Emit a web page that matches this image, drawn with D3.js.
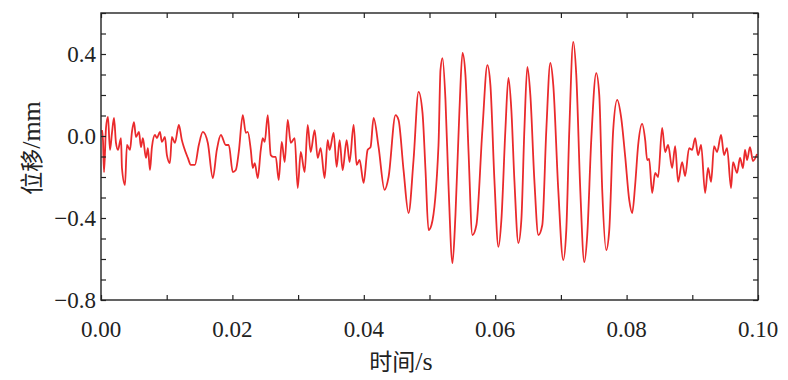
<!DOCTYPE html>
<html>
<head>
<meta charset="utf-8">
<script src="https://cdn.jsdelivr.net/npm/d3@7"></script>
<style>
  body { margin: 0; background: #fff; }
  svg text { font-family: "Liberation Serif", "Times New Roman", serif; fill: #222; }
  .cjk { font-family: "Noto Sans CJK SC", sans-serif; }
</style>
</head>
<body>
<svg id="chart" width="788" height="380"></svg>
<script>
// time (s)
const timeS = [
  0.00015, 0.0003, 0.00046, 0.00076, 0.00106, 0.00137, 0.00167, 0.00198, 0.00228, 0.00258,
  0.00304, 0.00319, 0.00365, 0.00395, 0.00441, 0.00471, 0.00502, 0.00532, 0.00578, 0.00608,
  0.00638, 0.00684, 0.00714, 0.00745, 0.00775, 0.00821, 0.00851, 0.00897, 0.00927, 0.00973,
  0.01003, 0.01049, 0.01079, 0.01125, 0.01185, 0.01231, 0.01261, 0.01322, 0.01368, 0.01429,
  0.01489, 0.0155, 0.01626, 0.01702, 0.01763, 0.01824, 0.019, 0.01945, 0.02006, 0.02052,
  0.02097, 0.02158, 0.02204, 0.02234, 0.0228, 0.0231, 0.0234, 0.02386, 0.02432, 0.02462,
  0.02492, 0.02538, 0.02584, 0.02629, 0.0266, 0.02705, 0.02751, 0.02796, 0.02842, 0.02888,
  0.02948, 0.02994, 0.0304, 0.031, 0.03146, 0.03191, 0.03252, 0.03298, 0.03343, 0.03404,
  0.0345, 0.0348, 0.03541, 0.03587, 0.03632, 0.03678, 0.03739, 0.03784, 0.03845, 0.03891,
  0.03936, 0.03997, 0.04058, 0.04103, 0.04149, 0.04225, 0.04316, 0.04377, 0.04483, 0.04529,
  0.04605, 0.04681, 0.04757, 0.04833, 0.04894, 0.04939, 0.04985, 0.0503, 0.05137, 0.05167,
  0.05198, 0.05243, 0.05289, 0.0535, 0.05395, 0.05456, 0.05502, 0.05547, 0.05593, 0.05653,
  0.05714, 0.05805, 0.05881, 0.05927, 0.05988, 0.06049, 0.06094, 0.06155, 0.06201, 0.06246,
  0.06292, 0.06353, 0.06398, 0.06444, 0.06489, 0.06535, 0.06596, 0.06657, 0.06717, 0.06778,
  0.06839, 0.06884, 0.0696, 0.07036, 0.07082, 0.07128, 0.07188, 0.07234, 0.07295, 0.07356,
  0.07401, 0.07462, 0.07538, 0.07584, 0.07629, 0.0769, 0.07736, 0.07796, 0.07857, 0.07918,
  0.07979, 0.0804, 0.08085, 0.0813, 0.08176, 0.08237, 0.08283, 0.08313, 0.08343, 0.08389,
  0.08435, 0.0848, 0.08541, 0.08587, 0.08632, 0.08693, 0.08739, 0.08784, 0.08845, 0.08891,
  0.08951, 0.08997, 0.09043, 0.09088, 0.09134, 0.09195, 0.0924, 0.09286, 0.09331, 0.09377,
  0.09438, 0.09483, 0.09529, 0.0959, 0.0962, 0.09681, 0.09726, 0.09772, 0.09802, 0.09833,
  0.09878, 0.09924, 0.09985
];

// displacement (mm)
const dispMm = [
  0.029, -0.020, -0.176, 0.039, 0.093, -0.068, 0.015, 0.088, -0.034, -0.068,
  -0.010, -0.156, -0.239, -0.044, -0.068, 0.020, 0.068, -0.005, 0.020, -0.054,
  -0.010, -0.107, -0.059, -0.166, -0.054, 0.005, -0.010, 0.020, -0.029, -0.005,
  -0.093, -0.132, -0.005, -0.034, 0.054, -0.020, -0.054, -0.107, -0.141, -0.141,
  -0.044, 0.020, -0.034, -0.205, -0.068, 0.005, -0.044, -0.044, -0.176, -0.166,
  -0.078, 0.102, 0.015, 0.020, -0.068, -0.156, -0.132, -0.205, -0.068, -0.010,
  -0.029, 0.102, -0.093, -0.102, -0.102, -0.215, -0.029, -0.127, 0.078, -0.034,
  -0.010, -0.254, -0.078, -0.176, 0.054, -0.078, 0.029, -0.107, -0.059, -0.205,
  -0.020, -0.068, 0.015, -0.151, -0.020, -0.166, -0.020, -0.127, 0.054, -0.141,
  -0.117, -0.229, -0.068, -0.054, 0.088, -0.054, -0.263, -0.200, 0.102, 0.078,
  -0.166, -0.376, -0.117, 0.215, 0.112, -0.166, -0.459, -0.434, -0.044, 0.322,
  0.380, 0.176, -0.239, -0.620, -0.385, 0.127, 0.405, 0.298, -0.068, -0.483,
  -0.434, 0.029, 0.346, 0.249, -0.215, -0.541, -0.410, 0.029, 0.283, 0.127,
  -0.215, -0.522, -0.410, 0.029, 0.337, 0.200, -0.215, -0.483, -0.434, 0.029,
  0.356, 0.249, -0.263, -0.605, -0.459, 0.029, 0.459, 0.298, -0.263, -0.615,
  -0.483, -0.020, 0.307, 0.200, -0.263, -0.556, -0.459, 0.029, 0.176, 0.088,
  -0.102, -0.312, -0.376, -0.239, -0.044, 0.059, -0.020, -0.117, -0.112, -0.278,
  -0.180, -0.200, 0.039, -0.078, -0.044, -0.156, -0.049, -0.224, -0.127, -0.195,
  -0.059, -0.068, -0.010, -0.093, -0.044, -0.278, -0.156, -0.224, -0.049, -0.078,
  0.005, -0.093, -0.059, -0.254, -0.127, -0.180, -0.107, -0.156, -0.068, -0.117,
  -0.054, -0.122, -0.088
];

const xTicks = [0, 0.01, 0.02, 0.03, 0.04, 0.05, 0.06, 0.07, 0.08, 0.09, 0.10];
const xLabels = [0, 0.02, 0.04, 0.06, 0.08, 0.10];
const yTicks = [-0.8, -0.7, -0.6, -0.5, -0.4, -0.3, -0.2, -0.1, 0, 0.1, 0.2, 0.3, 0.4, 0.5, 0.6];
const yLabels = [-0.8, -0.4, 0, 0.4];

const svg = d3.select("#chart");
const margin = { top: 13, right: 30, bottom: 80, left: 101 };
const width = +svg.attr("width") - margin.left - margin.right;
const height = +svg.attr("height") - margin.top - margin.bottom;

const chart = svg.append("g")
  .attr("transform", `translate(${margin.left},${margin.top})`);

const xScale = d3.scaleLinear().domain([0, 0.1]).range([0, width]);
const yScale = d3.scaleLinear().domain([-0.8, 0.6]).range([height, 0]);

// data line
const series = timeS.map((t, i) => ({ t: t, v: dispMm[i] }));
const line = d3.line()
  .x(d => xScale(d.t))
  .y(d => yScale(d.v))
  .curve(d3.curveMonotoneX);

chart.append("path")
  .datum(series)
  .attr("fill", "none")
  .attr("stroke", "#ea2a2c")
  .attr("stroke-width", 1.8)
  .attr("stroke-linejoin", "round")
  .attr("d", line);

// axes with inward ticks on all four sides
const tickLen = 5;
function styleAxis(g) {
  g.select(".domain").remove();
  g.selectAll(".tick line").attr("stroke", "#222").attr("stroke-width", 1.2);
  g.selectAll(".tick text").remove();
}
chart.append("g")
  .attr("transform", `translate(0,${height})`)
  .call(d3.axisBottom(xScale).tickValues(xTicks).tickSizeInner(-tickLen).tickSizeOuter(0))
  .call(styleAxis);
chart.append("g")
  .call(d3.axisTop(xScale).tickValues(xTicks).tickSizeInner(-tickLen).tickSizeOuter(0))
  .call(styleAxis);
chart.append("g")
  .call(d3.axisLeft(yScale).tickValues(yTicks).tickSizeInner(-tickLen).tickSizeOuter(0))
  .call(styleAxis);
chart.append("g")
  .attr("transform", `translate(${width},0)`)
  .call(d3.axisRight(yScale).tickValues(yTicks).tickSizeInner(-tickLen).tickSizeOuter(0))
  .call(styleAxis);

// frame
chart.append("rect")
  .attr("width", width)
  .attr("height", height)
  .attr("fill", "none")
  .attr("stroke", "#222")
  .attr("stroke-width", 1.4);

// tick labels
chart.selectAll(".xlab")
  .data(xLabels)
  .enter()
  .append("text")
  .attr("x", d => xScale(d))
  .attr("y", height + 37)
  .attr("text-anchor", "middle")
  .style("font-size", "23px")
  .text(d => d3.format(".2f")(d));

chart.selectAll(".ylab")
  .data(yLabels)
  .enter()
  .append("text")
  .attr("x", -5)
  .attr("y", d => yScale(d))
  .attr("dy", "0.35em")
  .attr("text-anchor", "end")
  .style("font-size", "23px")
  .text(d => d3.format(".1f")(d).replace("-", "\u2212"));

// axis titles: Chinese in CJK font, units in serif
const xTitle = svg.append("text")
  .attr("x", 401)
  .attr("y", 370)
  .attr("text-anchor", "middle")
  .style("font-size", "23px");
xTitle.append("tspan").attr("class", "cjk").text("时间");
xTitle.append("tspan").style("font-size", "26px").text("/s");

const yTitle = svg.append("text")
  .attr("transform", "translate(40,148) rotate(-90)")
  .attr("text-anchor", "middle")
  .style("font-size", "23px");
yTitle.append("tspan").attr("class", "cjk").text("位移");
yTitle.append("tspan").style("font-size", "26px").text("/mm");
</script>
</body>
</html>
